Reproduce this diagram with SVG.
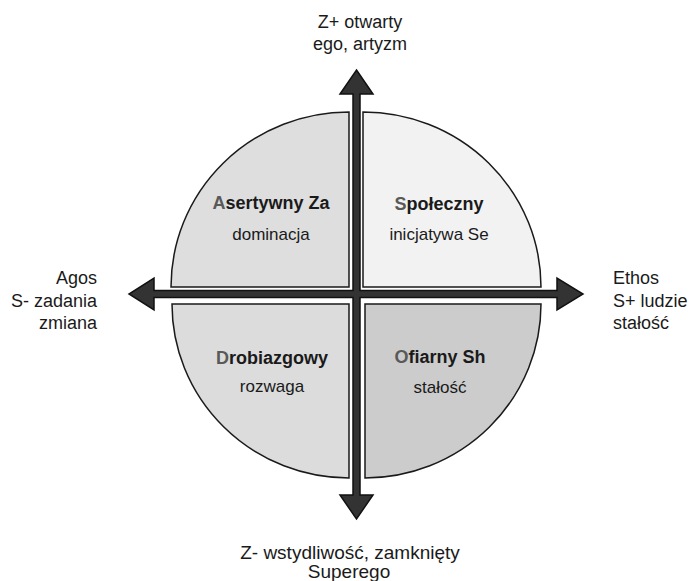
<svg xmlns="http://www.w3.org/2000/svg" width="690" height="581" viewBox="0 0 690 581">
<style>
.q{stroke:#1a1a1a;stroke-width:1.5}
.t{font-family:"Liberation Sans",Arial,sans-serif;fill:#1a1a1a}
.ax{font-size:18px}
.bx{font-size:19px;text-anchor:middle}
.h{font-size:18px;font-weight:bold;text-anchor:middle}
.s{font-size:17px;text-anchor:middle}
.f{fill:#595959}
</style>
<rect width="690" height="581" fill="#ffffff"/>
<g id="quad-asertywny">
<path class="q" fill="#dedede" d="M349,287 L171,287 A178,175 0 0 1 349,112 Z"/>
<text class="t h" x="271" y="209"><tspan class="f">A</tspan>sertywny Za</text>
<text class="t s" x="271" y="240">dominacja</text>
</g>
<g id="quad-spoleczny">
<path class="q" fill="#f2f2f2" d="M363,287 L363,112 A178,175 0 0 1 541,287 Z"/>
<text class="t h" x="439" y="210"><tspan class="f">S</tspan>połeczny</text>
<text class="t s" x="439" y="240">inicjatywa Se</text>
</g>
<g id="quad-drobiazgowy">
<path class="q" fill="#dcdcdc" d="M349,304 L172,304 A177,174 0 0 0 349,478 Z"/>
<text class="t h" x="272" y="364"><tspan class="f">D</tspan>robiazgowy</text>
<text class="t s" x="272" y="392">rozwaga</text>
</g>
<g id="quad-ofiarny">
<path class="q" fill="#cccccc" d="M365,304 L541,304 A176,174 0 0 1 365,478 Z"/>
<text class="t h" x="440" y="363"><tspan class="f">O</tspan>fiarny Sh</text>
<text class="t s" x="440" y="393">stałość</text>
</g>
<g id="connectors">
<polygon fill="#333333" stroke="#111111" stroke-width="1.5" stroke-linejoin="miter" points="356.5,70 373,94 360,94 360,290.5 557,290.5 557,278 583,294 557,310 557,297.5 360,297.5 360,495 373,495 356.5,519 340,495 353,495 353,297.5 154,297.5 154,310 129,294 154,278 154,290.5 353,290.5 353,94 340,94"/>
</g>
<g id="label-top">
<text class="t ax" x="360" y="28" text-anchor="middle">Z+ otwarty</text>
<text class="t ax" x="360" y="50" text-anchor="middle">ego, artyzm</text>
</g>
<g id="label-left">
<text class="t ax" x="97" y="284" text-anchor="end">Agos</text>
<text class="t ax" x="97" y="307" text-anchor="end">S- zadania</text>
<text class="t ax" x="97" y="329" text-anchor="end">zmiana</text>
</g>
<g id="label-right">
<text class="t ax" x="613" y="284">Ethos</text>
<text class="t ax" x="613" y="307">S+ ludzie</text>
<text class="t ax" x="613" y="329">stałość</text>
</g>
<g id="label-bottom">
<text class="t bx" x="350" y="559">Z- wstydliwość, zamknięty</text>
<text class="t bx" x="349" y="578">Superego</text>
</g>
</svg>
